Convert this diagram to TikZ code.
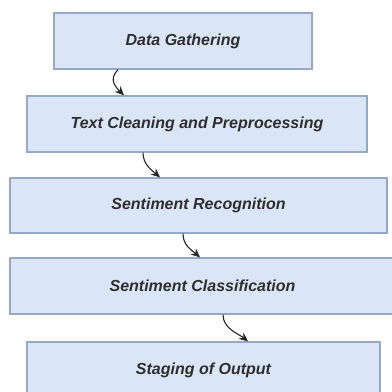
\documentclass[tikz,border=0pt]{standalone}
\usepackage{fontspec}
\setmainfont{Liberation Sans}
\usetikzlibrary{arrows.meta}
\definecolor{boxfill}{HTML}{DAE6F8}
\definecolor{boxline}{HTML}{97A8C4}
\definecolor{txt}{HTML}{2E2E2E}
\tikzset{
  stepbox/.style={draw=boxline, line width=1.3pt, fill=boxfill, inner sep=0pt,
    font=\fontsize{16}{19}\selectfont\bfseries\itshape, text=txt},
  arr/.style={draw=black!85, line width=1.1pt, -{Stealth[length=9pt,width=8pt]}}
}
\begin{document}
\begin{tikzpicture}[x=1pt,y=-1pt]
\clip (0,0) rectangle (392,392);
\fill[white] (0,0) rectangle (392,392);
\node[stepbox, minimum width=258pt, minimum height=56pt] (b1) at (183,41) {Data Gathering};
\node[stepbox, minimum width=340pt, minimum height=56pt] (b2) at (197,124) {Text Cleaning and Preprocessing};
\node[stepbox, minimum width=377pt, minimum height=55pt] (b3) at (198.5,205.5) {Sentiment Recognition};
\node[stepbox, minimum width=385pt, minimum height=56pt] (b4) at (202.5,286) {Sentiment Classification};
\node[stepbox, minimum width=353pt, minimum height=56pt] (b5) at (203.5,370) {Staging of Output};
\draw[arr] ([xshift=-65pt]b1.south) .. controls +(-10pt,-10pt) and +(-8pt,8pt) .. ([xshift=-73pt]b2.north);
\draw[arr] ([xshift=-54pt]b2.south) .. controls +(0pt,-12pt) and +(-8pt,7pt) .. ([xshift=-38.5pt]b3.north);
\draw[arr] ([xshift=-15.5pt]b3.south) .. controls +(0pt,-12pt) and +(-8pt,7pt) .. ([xshift=-2.5pt]b4.north);
\draw[arr] ([xshift=20.5pt]b4.south) .. controls +(0pt,-14pt) and +(-10pt,8pt) .. ([xshift=44.5pt]b5.north);
\end{tikzpicture}
\end{document}
